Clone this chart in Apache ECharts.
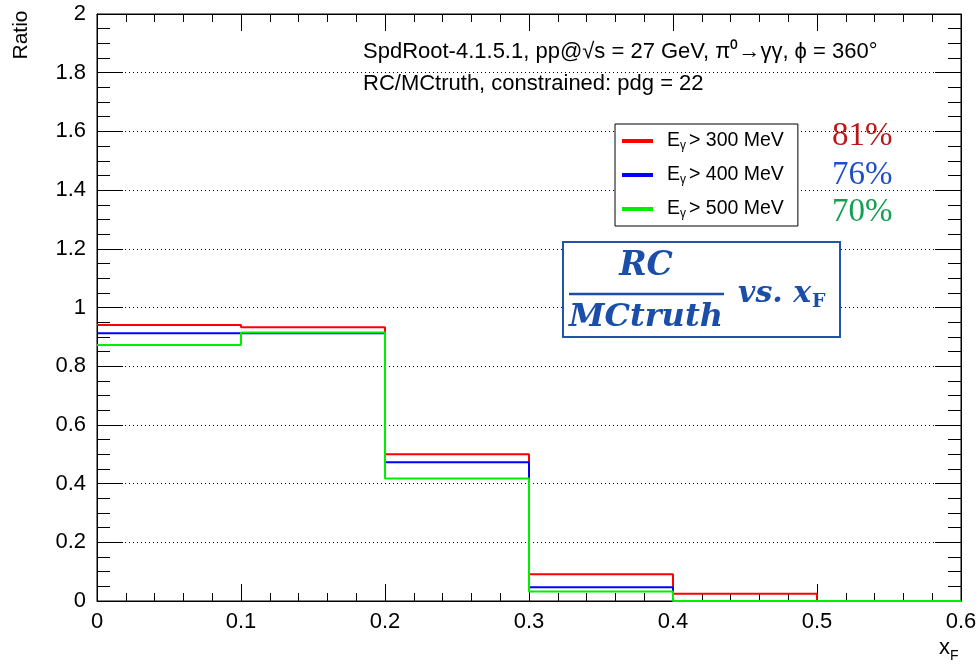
<!DOCTYPE html>
<html>
<head>
<meta charset="utf-8">
<script src="https://cdn.jsdelivr.net/npm/echarts@6/dist/echarts.min.js"></script>
<style>
html, body { margin: 0; padding: 0; background: #fff; }
#chart { width: 980px; height: 667px; }
</style>
</head>
<body>
<div id="chart"></div>
<script>
// bin edges of the x_F histogram
var binEdges = [0, 0.1, 0.2, 0.3, 0.4, 0.5, 0.6];
// ratio RC/MCtruth per bin
var ratio300 = [0.940, 0.933, 0.500, 0.091, 0.025, 0];
var ratio400 = [0.912, 0.912, 0.473, 0.047, 0, 0];
var ratio500 = [0.872, 0.915, 0.417, 0.032, 0, 0];
var seriesNames = ['E300', 'E400', 'E500'];
var legendCuts = ['300', '400', '500'];
var percentTexts = ['81%', '76%', '70%'];

var yMin = 0, yMax = 2, yStep = 0.2;

function histLine(vals) {
    var pts = [];
    for (var i = 0; i < vals.length; i++) {
        pts.push([binEdges[i], vals[i]]);
    }
    pts.push([binEdges[binEdges.length - 1], vals[vals.length - 1]]);
    return pts;
}

function fmt(v) { return String(Math.round(v * 10) / 10); }

var chart = echarts.init(document.getElementById('chart'));
var font = 'Liberation Sans, Arial, sans-serif';
var serif = 'DejaVu Serif, serif';
var formulaColor = '#1a4ea8';

var option = {
    animation: false,
    backgroundColor: '#fff',
    grid: { left: 97, top: 14, right: 19, bottom: 66, show: true, borderColor: '#000', borderWidth: 1 },
    legend: {
        left: 615, top: 124,
        orient: 'vertical',
        data: seriesNames,
        icon: 'rect',
        itemWidth: 31, itemHeight: 4,
        itemGap: 13,
        padding: [7, 14, 6, 7],
        borderColor: '#000', borderWidth: 1,
        backgroundColor: '#fff',
        selectedMode: false,
        formatter: function(name) {
            var k = seriesNames.indexOf(name);
            return '{t|E}{sub|γ}{t|> ' + legendCuts[k] + ' MeV}';
        },
        textStyle: {
            fontFamily: font, fontSize: 19.5, color: '#000',
            padding: [0, 0, 0, 9],
            rich: {
                t: { fontFamily: font, fontSize: 19.5, color: '#000', height: 22 },
                sub: { fontFamily: font, fontSize: 12, color: '#000', verticalAlign: 'bottom', padding: [10, 3, 0, 0] }
            }
        }
    },
    xAxis: [{
        type: 'value', min: 0, max: 0.6, interval: 0.1,
        axisLine: { show: true, onZero: false, lineStyle: { color: '#000', width: 1 } },
        axisTick: { show: true, inside: true, length: 17, lineStyle: { color: '#000' } },
        minorTick: { show: true, splitNumber: 5, length: 8, lineStyle: { color: '#000' } },
        axisLabel: { fontFamily: font, fontSize: 22, color: '#000', margin: 10, formatter: fmt },
        splitLine: { show: false }
    }, {
        type: 'value', min: 0, max: 0.6, interval: 0.1, position: 'top',
        axisLine: { show: true, onZero: false, lineStyle: { color: '#000' } },
        axisTick: { show: true, inside: true, length: 17, lineStyle: { color: '#000' } },
        minorTick: { show: true, splitNumber: 5, length: 8, lineStyle: { color: '#000' } },
        axisLabel: { show: false },
        splitLine: { show: false }
    }],
    yAxis: [{
        type: 'value', min: yMin, max: yMax, interval: yStep,
        axisLine: { show: true, onZero: false, lineStyle: { color: '#000', width: 1 } },
        axisTick: { show: true, inside: true, length: 26, lineStyle: { color: '#000' } },
        minorTick: { show: true, splitNumber: 4, length: 13, lineStyle: { color: '#000' } },
        axisLabel: { fontFamily: font, fontSize: 22, color: '#000', margin: 11, formatter: fmt },
        splitLine: { show: true, lineStyle: { color: '#000', type: [1, 3], width: 1 } }
    }, {
        type: 'value', min: yMin, max: yMax, interval: yStep, position: 'right',
        axisLine: { show: true, onZero: false, lineStyle: { color: '#000' } },
        axisTick: { show: true, inside: true, length: 26, lineStyle: { color: '#000' } },
        minorTick: { show: true, splitNumber: 4, length: 13, lineStyle: { color: '#000' } },
        axisLabel: { show: false },
        splitLine: { show: false }
    }],
    series: [
        { name: seriesNames[0], type: 'line', step: 'end', data: histLine(ratio300), symbol: 'none',
          lineStyle: { color: '#ff0000', width: 2 }, itemStyle: { color: '#ff0000' } },
        { name: seriesNames[1], type: 'line', step: 'end', data: histLine(ratio400), symbol: 'none',
          lineStyle: { color: '#0000ff', width: 2 }, itemStyle: { color: '#0000ff' } },
        { name: seriesNames[2], type: 'line', step: 'end', data: histLine(ratio500), symbol: 'none',
          lineStyle: { color: '#00ee00', width: 2 }, itemStyle: { color: '#00ee00' } }
    ],
    graphic: [
        // axis titles
        { type: 'text', x: 21, y: 35, rotation: Math.PI / 2,
          style: { text: 'Ratio', fontFamily: font, fontSize: 21, fill: '#000', align: 'center', verticalAlign: 'middle' } },
        { type: 'text', left: 939, top: 637,
          style: { text: 'x{s|F}', fontFamily: font, fontSize: 22, fill: '#000',
                   rich: { s: { fontFamily: font, fontSize: 14, verticalAlign: 'bottom', padding: [16, 0, 0, 0] } } } },
        // header lines
        { type: 'text', x: 363, y: 52,
          style: { text: 'SpdRoot-4.1.5.1, pp@√s = 27 GeV, π⁰→γγ, ϕ = 360°', fontFamily: font, fontSize: 22, fill: '#000', verticalAlign: 'middle' } },
        { type: 'text', x: 363, y: 84,
          style: { text: 'RC/MCtruth, constrained: pdg = 22', fontFamily: font, fontSize: 22, fill: '#000', verticalAlign: 'middle' } },
        // efficiencies
        { type: 'text', x: 832, y: 136,
          style: { text: percentTexts[0], fontFamily: 'Liberation Serif, serif', fontSize: 33, fill: '#b81a1a', verticalAlign: 'middle' } },
        { type: 'text', x: 832, y: 175,
          style: { text: percentTexts[1], fontFamily: 'Liberation Serif, serif', fontSize: 33, fill: '#1f4fc8', verticalAlign: 'middle' } },
        { type: 'text', x: 832, y: 212,
          style: { text: percentTexts[2], fontFamily: 'Liberation Serif, serif', fontSize: 33, fill: '#12a050', verticalAlign: 'middle' } },
        // formula box
        { type: 'rect', shape: { x: 563, y: 242, width: 277, height: 95 },
          style: { fill: '#fff', stroke: '#2054a8', lineWidth: 2 }, z: 10 },
        { type: 'text', x: 646, y: 266, z: 11,
          style: { text: 'RC', fontFamily: serif, fontWeight: 'bold', fontStyle: 'italic', fontSize: 33, fill: formulaColor, align: 'center', verticalAlign: 'middle' } },
        { type: 'line', shape: { x1: 569, y1: 294, x2: 724, y2: 294 }, z: 11,
          style: { stroke: formulaColor, lineWidth: 2.5 } },
        { type: 'text', x: 646, y: 318, z: 11,
          style: { text: 'MCtruth', fontFamily: serif, fontWeight: 'bold', fontStyle: 'italic', fontSize: 32, fill: formulaColor, align: 'center', verticalAlign: 'middle' } },
        { type: 'text', x: 738, y: 294, z: 11,
          style: { text: 'vs. x{s|F}', fontFamily: serif, fontWeight: 'bold', fontStyle: 'italic', fontSize: 30, fill: formulaColor, verticalAlign: 'middle',
                   rich: { s: { fontFamily: serif, fontWeight: 'bold', fontStyle: 'normal', fontSize: 19, fill: formulaColor, verticalAlign: 'bottom', padding: [16, 0, 0, 1] } } } }
    ]
};

chart.setOption(option);
</script>
</body>
</html>
